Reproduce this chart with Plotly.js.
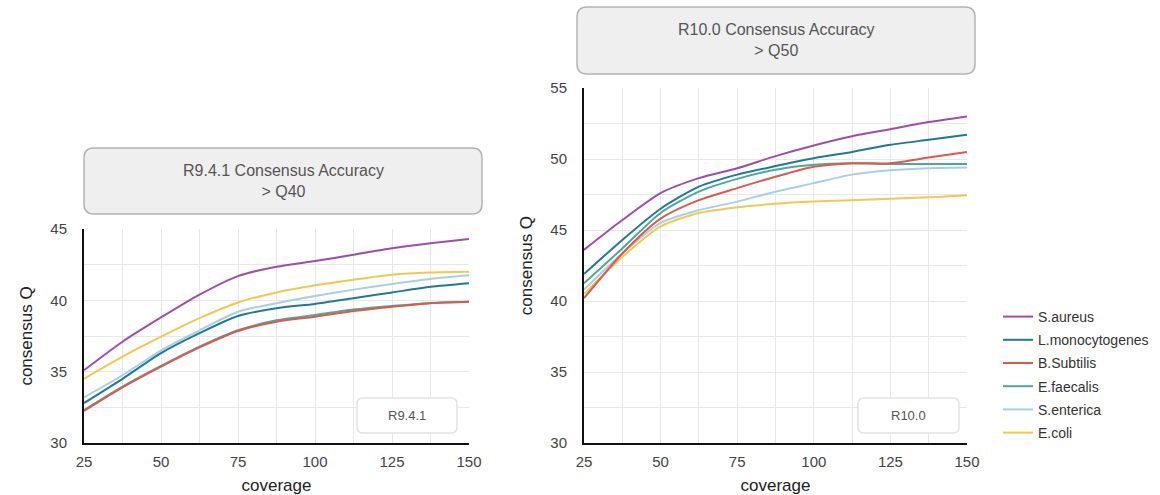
<!DOCTYPE html>
<html>
<head>
<meta charset="utf-8">
<script src="https://cdn.plot.ly/plotly-3.0.1.min.js"></script>
<style>html,body{margin:0;padding:0;background:#fff;}#chart{width:1160px;height:495px;}</style>
</head>
<body>
<div id="chart"></div>
<script>
// ---- data ----
const coverage = [25, 37.5, 50, 62.5, 75, 87.5, 100, 112.5, 125, 137.5, 150];
const species = ["S.aureus", "L.monocytogenes", "B.Subtilis", "E.faecalis", "S.enterica", "E.coli"];

const aureus9   = [35.1, 37.1, 38.8, 40.4, 41.7, 42.35, 42.75, 43.2, 43.65, 44.0, 44.3];
const mono9     = [32.8, 34.5, 36.3, 37.7, 38.9, 39.45, 39.75, 40.15, 40.55, 40.95, 41.2];
const subtilis9 = [32.25, 33.9, 35.35, 36.7, 37.85, 38.5, 38.85, 39.25, 39.55, 39.8, 39.9];
const faecalis9 = [32.3, 33.95, 35.4, 36.75, 37.9, 38.6, 38.97, 39.35, 39.6, 39.82, 39.9];
const enterica9 = [33.2, 34.75, 36.5, 37.9, 39.2, 39.8, 40.3, 40.75, 41.15, 41.5, 41.75];
const coli9     = [34.5, 36.05, 37.45, 38.75, 39.85, 40.55, 41.05, 41.45, 41.8, 41.95, 42.0];

const aureus10   = [43.6, 45.7, 47.6, 48.65, 49.35, 50.2, 50.95, 51.6, 52.1, 52.6, 53.0];
const mono10     = [41.9, 44.3, 46.5, 48.05, 48.9, 49.5, 50.05, 50.5, 51.0, 51.35, 51.7];
const subtilis10 = [40.2, 43.35, 45.8, 47.1, 47.95, 48.75, 49.45, 49.7, 49.7, 50.1, 50.5];
const faecalis10 = [41.25, 43.7, 46.2, 47.7, 48.6, 49.25, 49.6, 49.7, 49.65, 49.65, 49.65];
const enterica10 = [40.8, 43.35, 45.5, 46.4, 47.0, 47.7, 48.3, 48.9, 49.2, 49.35, 49.4];
const coli10     = [40.5, 43.1, 45.25, 46.2, 46.6, 46.85, 47.0, 47.1, 47.2, 47.3, 47.45];

const xTicks = [25, 50, 75, 100, 125, 150];
const yTicks9 = [30, 35, 40, 45];
const yTicks10 = [30, 35, 40, 45, 50, 55];

const title9 = ["R9.4.1 Consensus Accuracy", "> Q40"];
const title10 = ["R10.0 Consensus Accuracy", "> Q50"];
const tag9 = "R9.4.1";
const tag10 = "R10.0";

// ---- styles ----
const colors = ["#9c4fa6", "#1f7a96", "#e0584d", "#4aa99c", "#a8d0e2", "#f2c94e"];
const W = 1160, H = 495;
const FONT = "Liberation Sans, Arial, sans-serif";

const set9 = [aureus9, mono9, subtilis9, faecalis9, enterica9, coli9];
const set10 = [aureus10, mono10, subtilis10, faecalis10, enterica10, coli10];

const traces = [];
const order = [5, 4, 3, 2, 1, 0];
order.forEach(i => {
  traces.push({x: coverage, y: set9[i], xaxis: 'x', yaxis: 'y', type: 'scatter', mode: 'lines',
    name: species[i], legendgroup: species[i], showlegend: false, legendrank: i + 1,
    line: {color: colors[i], width: 2, shape: 'spline', smoothing: 0.7}, hoverinfo: 'skip'});
});
order.forEach(i => {
  traces.push({x: coverage, y: set10[i], xaxis: 'x2', yaxis: 'y2', type: 'scatter', mode: 'lines',
    name: species[i], legendgroup: species[i], showlegend: true, legendrank: i + 1,
    line: {color: colors[i], width: 2, shape: 'spline', smoothing: 0.7}, hoverinfo: 'skip'});
});

function px(x) { return x / W; }
function py(y) { return 1 - y / H; }
function roundRect(x0, y0, x1, y1, r) {
  const rx = r / W, ry = r / H;
  const a = px(x0), b = px(x1), t = py(y0), u = py(y1);
  return `M${a + rx},${t} L${b - rx},${t} Q${b},${t} ${b},${t - ry} L${b},${u + ry} Q${b},${u} ${b - rx},${u} ` +
         `L${a + rx},${u} Q${a},${u} ${a},${u + ry} L${a},${t - ry} Q${a},${t} ${a + rx},${t} Z`;
}

const axisCommon = {
  showgrid: true, gridcolor: '#e8e8e8', gridwidth: 1,
  showline: true, linecolor: '#111', linewidth: 2,
  ticks: '', zeroline: false, fixedrange: true,
  tickfont: {family: FONT, size: 15, color: '#444'}
};

const layout = {
  width: W, height: H,
  margin: {l: 0, r: 0, t: 0, b: 0},
  paper_bgcolor: '#fff', plot_bgcolor: '#fff',
  font: {family: FONT},
  showlegend: true,
  legend: {x: px(998), y: py(301), xanchor: 'left', yanchor: 'top',
    font: {family: FONT, size: 14, color: '#333'}, tracegroupgap: 2, itemwidth: 30,
    bgcolor: 'rgba(0,0,0,0)'},
  xaxis: Object.assign({}, axisCommon, {domain: [px(84), px(469)], range: [25, 150], tickvals: xTicks,
    ticklabelstandoff: 4,
    minor: {dtick: 12.5, tick0: 25, showgrid: true, gridcolor: '#e8e8e8', ticks: ''},
    title: {text: 'coverage', font: {family: FONT, size: 17, color: '#222'}, standoff: 14}, anchor: 'y'}),
  yaxis: Object.assign({}, axisCommon, {domain: [py(443), py(229)], range: [30, 45], tickvals: yTicks9,
    ticklabelstandoff: 12,
    minor: {dtick: 2.5, tick0: 30, showgrid: true, gridcolor: '#e8e8e8', ticks: ''},
    title: {text: 'consensus Q', font: {family: FONT, size: 17, color: '#222'}, standoff: 13}, anchor: 'x'}),
  xaxis2: Object.assign({}, axisCommon, {domain: [px(584), px(967)], range: [25, 150], tickvals: xTicks,
    ticklabelstandoff: 4,
    minor: {dtick: 12.5, tick0: 25, showgrid: true, gridcolor: '#e8e8e8', ticks: ''},
    title: {text: 'coverage', font: {family: FONT, size: 17, color: '#222'}, standoff: 14}, anchor: 'y2'}),
  yaxis2: Object.assign({}, axisCommon, {domain: [py(443), py(88)], range: [30, 55], tickvals: yTicks10,
    ticklabelstandoff: 12,
    minor: {dtick: 2.5, tick0: 30, showgrid: true, gridcolor: '#e8e8e8', ticks: ''},
    title: {text: 'consensus Q', font: {family: FONT, size: 17, color: '#222'}, standoff: 13}, anchor: 'x2'}),
  shapes: [
    {type: 'path', xref: 'paper', yref: 'paper', path: roundRect(84, 148, 482, 214, 10),
      fillcolor: '#efefef', line: {color: '#b4b4b4', width: 1.5}, layer: 'above'},
    {type: 'path', xref: 'paper', yref: 'paper', path: roundRect(577, 7, 975, 74, 10),
      fillcolor: '#efefef', line: {color: '#b4b4b4', width: 1.5}, layer: 'above'},
    {type: 'path', xref: 'paper', yref: 'paper', path: roundRect(357, 398, 457, 433, 6),
      fillcolor: '#ffffff', line: {color: '#e2e2e2', width: 1.5}, layer: 'above'},
    {type: 'path', xref: 'paper', yref: 'paper', path: roundRect(858, 398, 959, 433, 6),
      fillcolor: '#ffffff', line: {color: '#e2e2e2', width: 1.5}, layer: 'above'}
  ],
  annotations: [
    {xref: 'paper', yref: 'paper', x: px(283), y: py(181), text: title9.join('<br>'), showarrow: false,
      font: {family: FONT, size: 16, color: '#555'}, align: 'center', xanchor: 'center', yanchor: 'middle'},
    {xref: 'paper', yref: 'paper', x: px(776), y: py(40), text: title10.join('<br>'), showarrow: false,
      font: {family: FONT, size: 16, color: '#555'}, align: 'center', xanchor: 'center', yanchor: 'middle'},
    {xref: 'paper', yref: 'paper', x: px(407), y: py(415), text: tag9, showarrow: false,
      font: {family: FONT, size: 13, color: '#555'}, xanchor: 'center', yanchor: 'middle'},
    {xref: 'paper', yref: 'paper', x: px(908), y: py(415), text: tag10, showarrow: false,
      font: {family: FONT, size: 13, color: '#555'}, xanchor: 'center', yanchor: 'middle'}
  ]
};

Plotly.newPlot('chart', traces, layout, {staticPlot: true, displayModeBar: false});
</script>
</body>
</html>
